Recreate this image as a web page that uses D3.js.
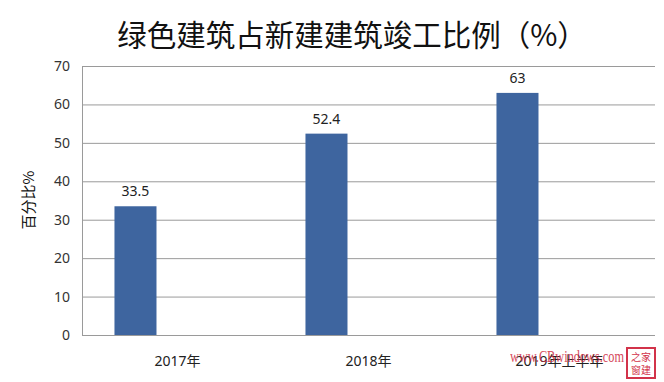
<!DOCTYPE html>
<html><head><meta charset="utf-8">
<script src="https://cdn.jsdelivr.net/npm/d3@7"></script>
<style>body{margin:0;background:#fff;}svg{display:block;}</style>
</head><body>
<script>
const title = "绿色建筑占新建建筑竣工比例（%）";
const yTitle = "百分比%";
const categories = ["2017年", "2018年", "2019年上半年"];
const values = [33.5, 52.4, 63];
const yTicks = [0, 10, 20, 30, 40, 50, 60, 70];

const W = 664, H = 382;
const m = {left: 82, right: 9, top: 66, bottom: 47};
const svg = d3.select("body").append("svg").attr("width", W).attr("height", H);
const font = "'Noto Sans', 'Noto Sans CJK SC', sans-serif";

const x = d3.scaleBand().domain(categories).range([m.left, W - m.right]).padding(0);
const y = d3.scaleLinear().domain([0, 70]).range([H - m.bottom, m.top]);

// gridlines
svg.append("g").selectAll("line").data(yTicks).join("line")
  .attr("x1", m.left).attr("x2", W - m.right)
  .attr("y1", d => y(d) + 0.5).attr("y2", d => y(d) + 0.5)
  .attr("stroke", "#9a9a9a").attr("stroke-width", 1);
// left axis line
svg.append("line").attr("x1", m.left + 0.5).attr("x2", m.left + 0.5)
  .attr("y1", y(70)).attr("y2", y(0)).attr("stroke", "#9a9a9a");

// y axis tick labels
const yAxis = d3.axisLeft(y).tickValues(yTicks).tickSize(0).tickPadding(12);
const gy = svg.append("g").attr("transform", `translate(${m.left},0)`).call(yAxis);
gy.select(".domain").remove();
gy.selectAll("text").attr("font-family", font).attr("font-size", 14).attr("fill", "#333");

// x labels
const xAxis = d3.axisBottom(x).tickSize(0).tickPadding(21);
const gx = svg.append("g").attr("transform", `translate(0,${y(0)})`).call(xAxis);
gx.select(".domain").remove();
gx.selectAll("text").attr("font-family", font).attr("font-size", 14).attr("fill", "#222");

// bars
const bw = x.bandwidth();
svg.append("g").selectAll("rect").data(values).join("rect")
  .attr("x", (d, i) => x(categories[i]) + bw * 0.17)
  .attr("width", bw * 0.22)
  .attr("y", d => y(d))
  .attr("height", d => y(0) - y(d))
  .attr("fill", "#3e659f");

// data labels
svg.append("g").selectAll("text").data(values).join("text")
  .attr("x", (d, i) => x(categories[i]) + bw * 0.28)
  .attr("y", d => y(d) - 10)
  .attr("text-anchor", "middle")
  .attr("font-family", font).attr("font-size", 14).attr("fill", "#222")
  .text(d => d);

// title
svg.append("text").attr("x", 352).attr("y", 46).attr("text-anchor", "middle")
  .attr("font-family", "'Noto Sans CJK SC', sans-serif").attr("font-size", 29.5)
  .attr("fill", "#111").text(title);

// y title
svg.append("text").attr("transform", "translate(34,200) rotate(-90)")
  .attr("text-anchor", "middle").attr("font-family", "'Noto Sans CJK SC', sans-serif")
  .attr("font-size", 15).attr("fill", "#111").text(yTitle);

// watermark
svg.append("text").attr("x", 510).attr("y", 362)
  .attr("font-family", "'Liberation Serif', serif").attr("font-size", 17)
  .attr("textLength", 114).attr("lengthAdjust", "spacingAndGlyphs")
  .attr("fill", "#d2334a").attr("opacity", 0.9).text("www.CBwindows.com");
svg.append("rect").attr("x", 627).attr("y", 348).attr("width", 28).attr("height", 30)
  .attr("fill", "#fff").attr("stroke", "#d2334a").attr("stroke-width", 2);
svg.append("text").attr("x", 641).attr("y", 361).attr("text-anchor", "middle")
  .attr("font-family", "'Noto Sans CJK SC', sans-serif").attr("font-size", 10)
  .attr("fill", "#d2334a").text("之家");
svg.append("text").attr("x", 641).attr("y", 374).attr("text-anchor", "middle")
  .attr("font-family", "'Noto Sans CJK SC', sans-serif").attr("font-size", 10)
  .attr("fill", "#d2334a").text("窗建");
</script>
</body></html>
